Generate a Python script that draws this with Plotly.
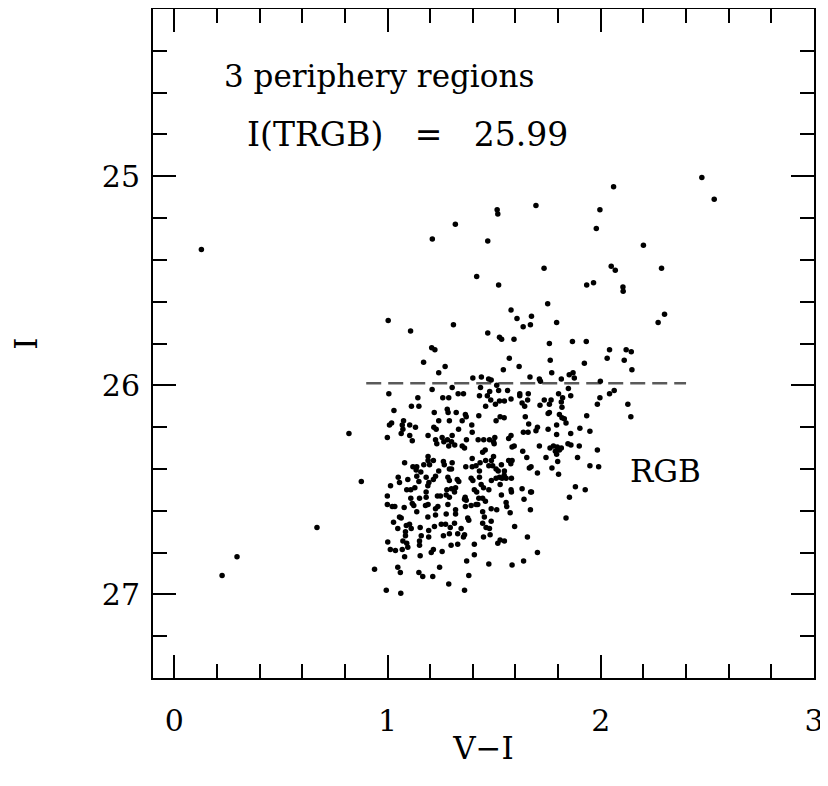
import plotly.graph_objects as go

# V-I colour and I magnitude of each star
vi = [
    0.127, 1.21, 1.318, 1.47, 1.418, 1.003, 1.108, 1.309, 1.47, 1.207, 1.222, 1.169, 1.24, 1.27, 1.40,
    1.44, 1.474, 2.474, 2.532, 2.06, 1.996, 1.979, 1.696, 1.514, 1.517, 2.20, 1.734, 1.521, 2.049, 2.068,
    2.285, 1.934, 1.966, 2.104, 2.105, 1.751, 1.579, 1.607, 1.675, 1.670, 1.636, 1.793, 2.269, 2.299, 1.525,
    1.535, 1.593, 1.759, 1.867, 1.932, 2.041, 2.119, 2.143, 2.030, 2.110, 2.146, 1.571, 1.763, 1.617, 1.543,
    1.770, 1.923, 1.486, 1.668, 1.712, 1.717, 1.815, 1.852, 1.87, 1.876, 1.998,
    # just below the tip
    1.006, 1.142, 1.209, 1.259, 1.287, 1.303, 1.331, 1.356, 1.431, 1.436, 1.468, 1.479, 1.521, 1.563, 1.512,
    1.62, 1.62, 1.66, 1.802, 1.848, 1.859, 1.996, 2.041, 2.063, 1.484, 1.525, 1.548, 1.579, 1.735, 1.767,
    1.506, 1.631, 1.657, 1.643, 1.715, 1.759, 1.759, 1.753, 1.821, 1.815, 1.818, 1.806, 1.818, 1.829, 1.837,
    1.984, 2.127, 2.141, 1.934, 1.509, 1.528, 1.547, 1.662, 1.646, 1.637, 1.659, 1.579, 1.568, 1.703, 1.696,
    1.753, 1.793, 1.793, 1.859, 1.902, 1.949, 1.478, 1.497, 1.503, 1.5, 1.497, 1.584, 1.594, 1.634, 1.653,
    1.673, 1.665, 1.712, 1.743, 1.762, 1.778, 1.787, 1.796, 1.806, 1.793, 1.798, 1.815, 1.846, 1.86, 1.899,
    1.891, 1.984, 1.949, 1.99, 1.771, 1.802, 1.703, 1.487, 1.493, 1.509, 1.519, 1.534, 1.548, 1.568, 1.578,
    1.584, 1.487, 1.509, 1.525, 1.537, 1.547, 1.556, 1.581, 1.528, 1.579, 1.631, 1.671, 1.881, 1.927, 1.853,
    # main body
    1.03, 1.112, 1.147, 1.219, 1.28, 1.284, 1.322, 1.365, 1.369, 1.428, 1.46, 1.075, 1.069, 1.019, 1.009,
    1.104, 1.131, 1.240, 1.290, 1.35, 1.395, 1.333, 1.217, 1.228, 1.397, 0.819, 0.999, 1.064, 1.072, 1.104,
    1.116, 1.19, 1.225, 1.231, 1.256, 1.281, 1.264, 1.287, 1.303, 1.300, 1.315, 1.35, 1.361, 1.37, 1.425,
    1.451, 1.458, 1.446, 1.19, 1.19, 1.08, 1.215, 1.262, 1.266, 1.17, 1.197, 1.137, 1.303, 1.24, 1.29,
    1.30, 1.397, 1.367, 1.397, 1.415, 1.434, 1.431, 1.46, 1.475, 0.877, 1.119, 1.134, 1.05, 1.056, 1.014,
    0.999, 1.095, 1.09, 1.109, 1.137, 1.156, 1.147, 1.128, 1.181, 1.194, 1.189, 1.181, 1.225, 1.215, 1.283,
    1.29, 1.278, 1.30, 1.319, 1.314, 1.275, 1.29, 1.327, 1.334, 1.364, 1.361, 1.392, 1.4, 1.431, 1.407,
    1.418, 1.439, 1.45, 1.475, 1.181, 1.15, 1.109, 1.234, 1.248,
    # faint end
    1.369, 1.428, 1.446, 1.459, 0.999, 1.022, 1.034, 1.078, 1.116, 1.123, 1.178, 1.19, 1.225, 1.236, 1.283,
    1.319, 1.365, 1.392, 1.415, 1.423, 1.056, 1.064, 1.137, 1.189, 1.225, 1.275, 1.319, 1.376, 1.446, 1.454,
    1.462, 1.028, 1.048, 1.088, 1.103, 1.111, 1.084, 1.153, 1.193, 1.22, 1.252, 1.272, 1.294, 1.314, 1.361,
    1.381, 1.345, 1.084, 1.09, 1.072, 1.15, 1.158, 1.193, 1.262, 1.29, 1.329, 1.356, 1.407, 1.45, 1.001,
    1.013, 1.037, 1.069, 1.095, 1.15, 1.205, 1.215, 1.256, 1.298, 1.329, 1.407, 1.08, 1.153, 1.371, 0.939,
    1.048, 1.06, 1.147, 1.165, 1.212, 1.244, 1.381, 1.287, 0.994, 1.062, 1.361, 1.475,
    1.534, 1.581, 1.675, 1.64, 1.837, 1.486, 1.512, 1.556, 1.559, 1.575, 1.67, 1.446, 1.478, 1.486, 1.481,
    1.528, 1.548, 1.517, 1.584, 1.638, 1.703, 1.656, 1.596,
    # blue outliers
    0.669, 0.294, 0.224,
]
imag = [
    25.35, 25.30, 25.23, 25.31, 25.48, 25.69, 25.74, 25.71, 25.75, 25.82, 25.83, 25.89, 25.94, 25.91, 25.965,
    25.96, 25.97, 25.006, 25.11, 25.05, 25.16, 25.25, 25.14, 25.16, 25.18, 25.33, 25.44, 25.52, 25.43, 25.45,
    25.44, 25.52, 25.51, 25.53, 25.55, 25.61, 25.64, 25.68, 25.67, 25.71, 25.72, 25.70, 25.70, 25.66, 25.77,
    25.78, 25.78, 25.80, 25.79, 25.79, 25.83, 25.83, 25.84, 25.87, 25.88, 25.925, 25.87, 25.88, 25.91, 25.925,
    25.94, 25.895, 25.975, 25.96, 25.97, 25.98, 25.97, 25.95, 25.94, 25.965, 25.98,
    26.04, 26.06, 26.02, 26.06, 26.06, 26.01, 26.04, 26.04, 26.05, 26.01, 26.05, 26.03, 26.025, 26.025, 26.00,
    26.04, 26.05, 26.04, 26.04, 26.015, 26.05, 26.06, 26.04, 26.025, 26.07, 26.075, 26.075, 26.065, 26.07, 26.07,
    26.09, 26.085, 26.07, 26.10, 26.095, 26.09, 26.13, 26.135, 26.06, 26.08, 26.105, 26.14, 26.155, 26.16, 26.18,
    26.09, 26.09, 26.15, 26.145, 26.17, 26.15, 26.155, 26.185, 26.15, 26.225, 26.225, 26.24, 26.255, 26.20, 26.217,
    26.21, 26.19, 26.235, 26.23, 26.205, 26.22, 26.26, 26.27, 26.25, 26.28, 26.34, 26.295, 26.29, 26.315, 26.345,
    26.39, 26.395, 26.29, 26.345, 26.30, 26.29, 26.315, 26.295, 26.31, 26.33, 26.365, 26.30, 26.28, 26.285, 26.29,
    26.345, 26.31, 26.385, 26.39, 26.395, 26.425, 26.42, 26.36, 26.385, 26.40, 26.41, 26.38, 26.41, 26.36, 26.375,
    26.36, 26.455, 26.445, 26.44, 26.445, 26.43, 26.445, 26.445, 26.475, 26.50, 26.495, 26.51, 26.485, 26.50, 26.535,
    26.12, 26.10, 26.10, 26.13, 26.115, 26.13, 26.13, 26.14, 26.15, 26.145, 26.10, 26.17, 26.19, 26.18, 26.19,
    26.19, 26.20, 26.17, 26.17, 26.17, 26.19, 26.21, 26.20, 26.21, 26.225, 26.23, 26.25, 26.23, 26.21, 26.24,
    26.265, 26.24, 26.26, 26.28, 26.25, 26.26, 26.27, 26.29, 26.24, 26.27, 26.285, 26.29, 26.30, 26.26, 26.26,
    26.26, 26.31, 26.32, 26.34, 26.36, 26.37, 26.36, 26.365, 26.38, 26.38, 26.38, 26.39, 26.37, 26.41, 26.40,
    26.40, 26.35, 26.39, 26.39, 26.385, 26.37, 26.41, 26.36, 26.385, 26.46, 26.39, 26.405, 26.44, 26.465, 26.48,
    26.53, 26.45, 26.50, 26.50, 26.435, 26.415, 26.46, 26.49, 26.44, 26.465, 26.48, 26.51, 26.435, 26.45, 26.44,
    26.455, 26.50, 26.495, 26.49, 26.51, 26.525, 26.535, 26.45, 26.46, 26.535, 26.545, 26.445, 26.455, 26.44, 26.50,
    26.51, 26.475, 26.49, 26.50, 26.535, 26.54, 26.54, 26.53, 26.53,
    26.55, 26.54, 26.54, 26.555, 26.57, 26.58, 26.58, 26.585, 26.565, 26.575, 26.575, 26.57, 26.59, 26.58, 26.57,
    26.595, 26.58, 26.575, 26.57, 26.57, 26.63, 26.635, 26.605, 26.63, 26.62, 26.615, 26.615, 26.635, 26.605, 26.63,
    26.68, 26.655, 26.685, 26.67, 26.665, 26.685, 26.70, 26.68, 26.695, 26.675, 26.665, 26.665, 26.68, 26.66, 26.715,
    26.645, 26.685, 26.72, 26.755, 26.745, 26.745, 26.72, 26.725, 26.72, 26.71, 26.71, 26.725, 26.76, 26.725, 26.75,
    26.785, 26.79, 26.785, 26.775, 26.765, 26.80, 26.785, 26.795, 26.765, 26.76, 26.81, 26.82, 26.815, 26.84, 26.88,
    26.87, 26.895, 26.895, 26.915, 26.915, 26.87, 26.91, 26.95, 26.98, 26.995, 26.98, 26.855,
    26.525, 26.51, 26.51, 26.545, 26.635, 26.59, 26.595, 26.56, 26.58, 26.61, 26.595, 26.66, 26.685, 26.65, 26.715,
    26.74, 26.745, 26.755, 26.86, 26.84, 26.80, 26.725, 26.675,
    26.68, 26.82, 26.91,
]

# TRGB line and labels
trgb = 25.99
trgb_x = [0.9, 2.4]
x_range = [-0.1, 3.0]
y_range = [27.4, 24.2]
x_ticks = [0, 1, 2, 3]
y_ticks = [25, 26, 27]

FONT = "DejaVu Serif"

fig = go.Figure()
fig.add_trace(go.Scatter(
    x=trgb_x, y=[trgb, trgb], mode="lines",
    line=dict(color="#5a5a5a", width=2.5, dash="15px,7px"),
    showlegend=False, hoverinfo="skip",
))
fig.add_trace(go.Scatter(
    x=vi, y=imag, mode="markers",
    marker=dict(color="black", size=5.5, line=dict(width=0)),
    showlegend=False,
))

axis_common = dict(
    showgrid=False, zeroline=False, showline=True, linecolor="black", linewidth=2,
    ticks="inside", ticklen=23, tickwidth=2, tickcolor="black", mirror="allticks",
    tickfont=dict(family=FONT, size=30, color="black"),
    ticklabeloverflow="allow",
    minor=dict(ticks="inside", ticklen=14, tickwidth=2, tickcolor="black", dtick=0.2),
)

fig.update_xaxes(
    range=x_range, tickmode="array", tickvals=x_ticks, ticktext=[str(t) for t in x_ticks],
    title=dict(text="V\u2212I", font=dict(family=FONT, size=31, color="black"), standoff=0),
    ticklabelstandoff=15,
    **axis_common,
)
fig.update_yaxes(
    range=y_range, tickmode="array", tickvals=y_ticks, ticktext=[str(t) for t in y_ticks],
    title=dict(text="I", font=dict(family=FONT, size=31, color="black"), standoff=55),
    ticklabelstandoff=5,
    **axis_common,
)

fig.add_annotation(x=0.958, y=24.52, xref="x", yref="y", text="3 periphery regions",
                   showarrow=False, font=dict(family=FONT, size=31, color="black"))
fig.add_annotation(x=1.093, y=24.80, xref="x", yref="y", text="I(TRGB)\u00a0\u00a0 =\u00a0\u00a0 25.99",
                   showarrow=False, font=dict(family=FONT, size=33, color="black"))
fig.add_annotation(x=2.302, y=26.41, xref="x", yref="y", text="RGB",
                   showarrow=False, font=dict(family=FONT, size=31, color="black"))

# the page body adds an 8px margin, so the figure is sized to fit inside the window
fig.update_layout(
    width=820, height=770,
    margin=dict(l=145, r=14, t=1, b=100, autoexpand=False),
    paper_bgcolor="white", plot_bgcolor="white",
)

fig.write_html("out.html")
